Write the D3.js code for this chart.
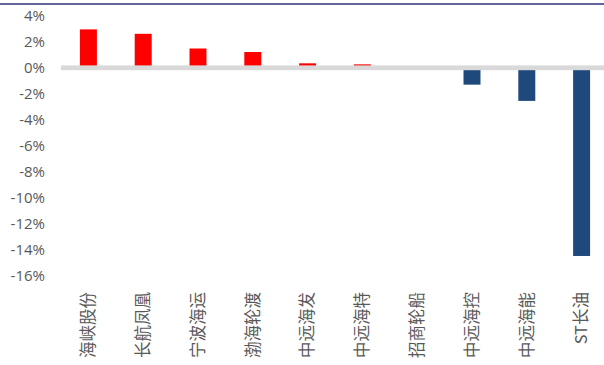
<!DOCTYPE html>
<html>
<head>
<meta charset="utf-8">
<script src="https://cdn.jsdelivr.net/npm/d3@7/dist/d3.min.js"></script>
<style>
  html, body { margin: 0; padding: 0; background: #fff; }
  svg { display: block; }
</style>
</head>
<body>
<script>
const categories = ["海峡股份", "长航凤凰", "宁波海运", "渤海轮渡", "中远海发", "中远海特", "招商轮船", "中远海控", "中远海能", "ST长油"];
const values = [2.97, 2.63, 1.5, 1.23, 0.36, 0.28, 0, -1.28, -2.53, -14.46];
const yTicks = [4, 2, 0, -2, -4, -6, -8, -10, -12, -14, -16];

const W = 604, H = 365;
const svg = d3.select("body").append("svg").attr("width", W).attr("height", H);

// top border line
svg.append("rect").attr("x", 0).attr("y", 3).attr("width", W).attr("height", 2).attr("fill", "#63649d");

const x = d3.scaleBand().domain(categories).range([61, 609]).paddingInner(0.69).paddingOuter(0.345);
const y = d3.scaleLinear().domain([-16, 4]).range([276, 16]);

// y axis labels
const yAxis = d3.axisLeft(y).tickValues(yTicks).tickSize(0).tickPadding(0).tickFormat(d => d + "%");
const ya = svg.append("g").attr("transform", "translate(45,0)").call(yAxis);
ya.select(".domain").remove();
ya.selectAll("text").attr("font-family", "'Open Sans', sans-serif").attr("font-size", 15).attr("fill", "#595959");

// bars
svg.append("g").selectAll("rect").data(categories).join("rect")
  .attr("x", d => x(d))
  .attr("width", x.bandwidth())
  .attr("y", (d, i) => y(Math.max(0, values[i])))
  .attr("height", (d, i) => Math.abs(y(values[i]) - y(0)))
  .attr("fill", (d, i) => values[i] >= 0 ? "#ff0000" : "#1f497d");

// zero axis band (drawn on top like Excel)
svg.append("rect").attr("x", 61).attr("y", y(0) - 2.6).attr("width", W - 61).attr("height", 4.8).attr("fill", "#d9d9d9");

// category labels (rotated)
const xAxis = d3.axisBottom(x).tickSize(0).tickPadding(0);
const xa = svg.append("g").attr("transform", "translate(0,292)").call(xAxis);
xa.select(".domain").remove();
xa.selectAll("text")
  .attr("transform", "rotate(-90)")
  .attr("x", 0).attr("y", 0).attr("dy", "0.35em")
  .attr("text-anchor", "end")
  .attr("font-family", "'Noto Sans CJK SC', sans-serif")
  .attr("font-size", 16.5)
  .attr("fill", "#595959");
</script>
</body>
</html>
